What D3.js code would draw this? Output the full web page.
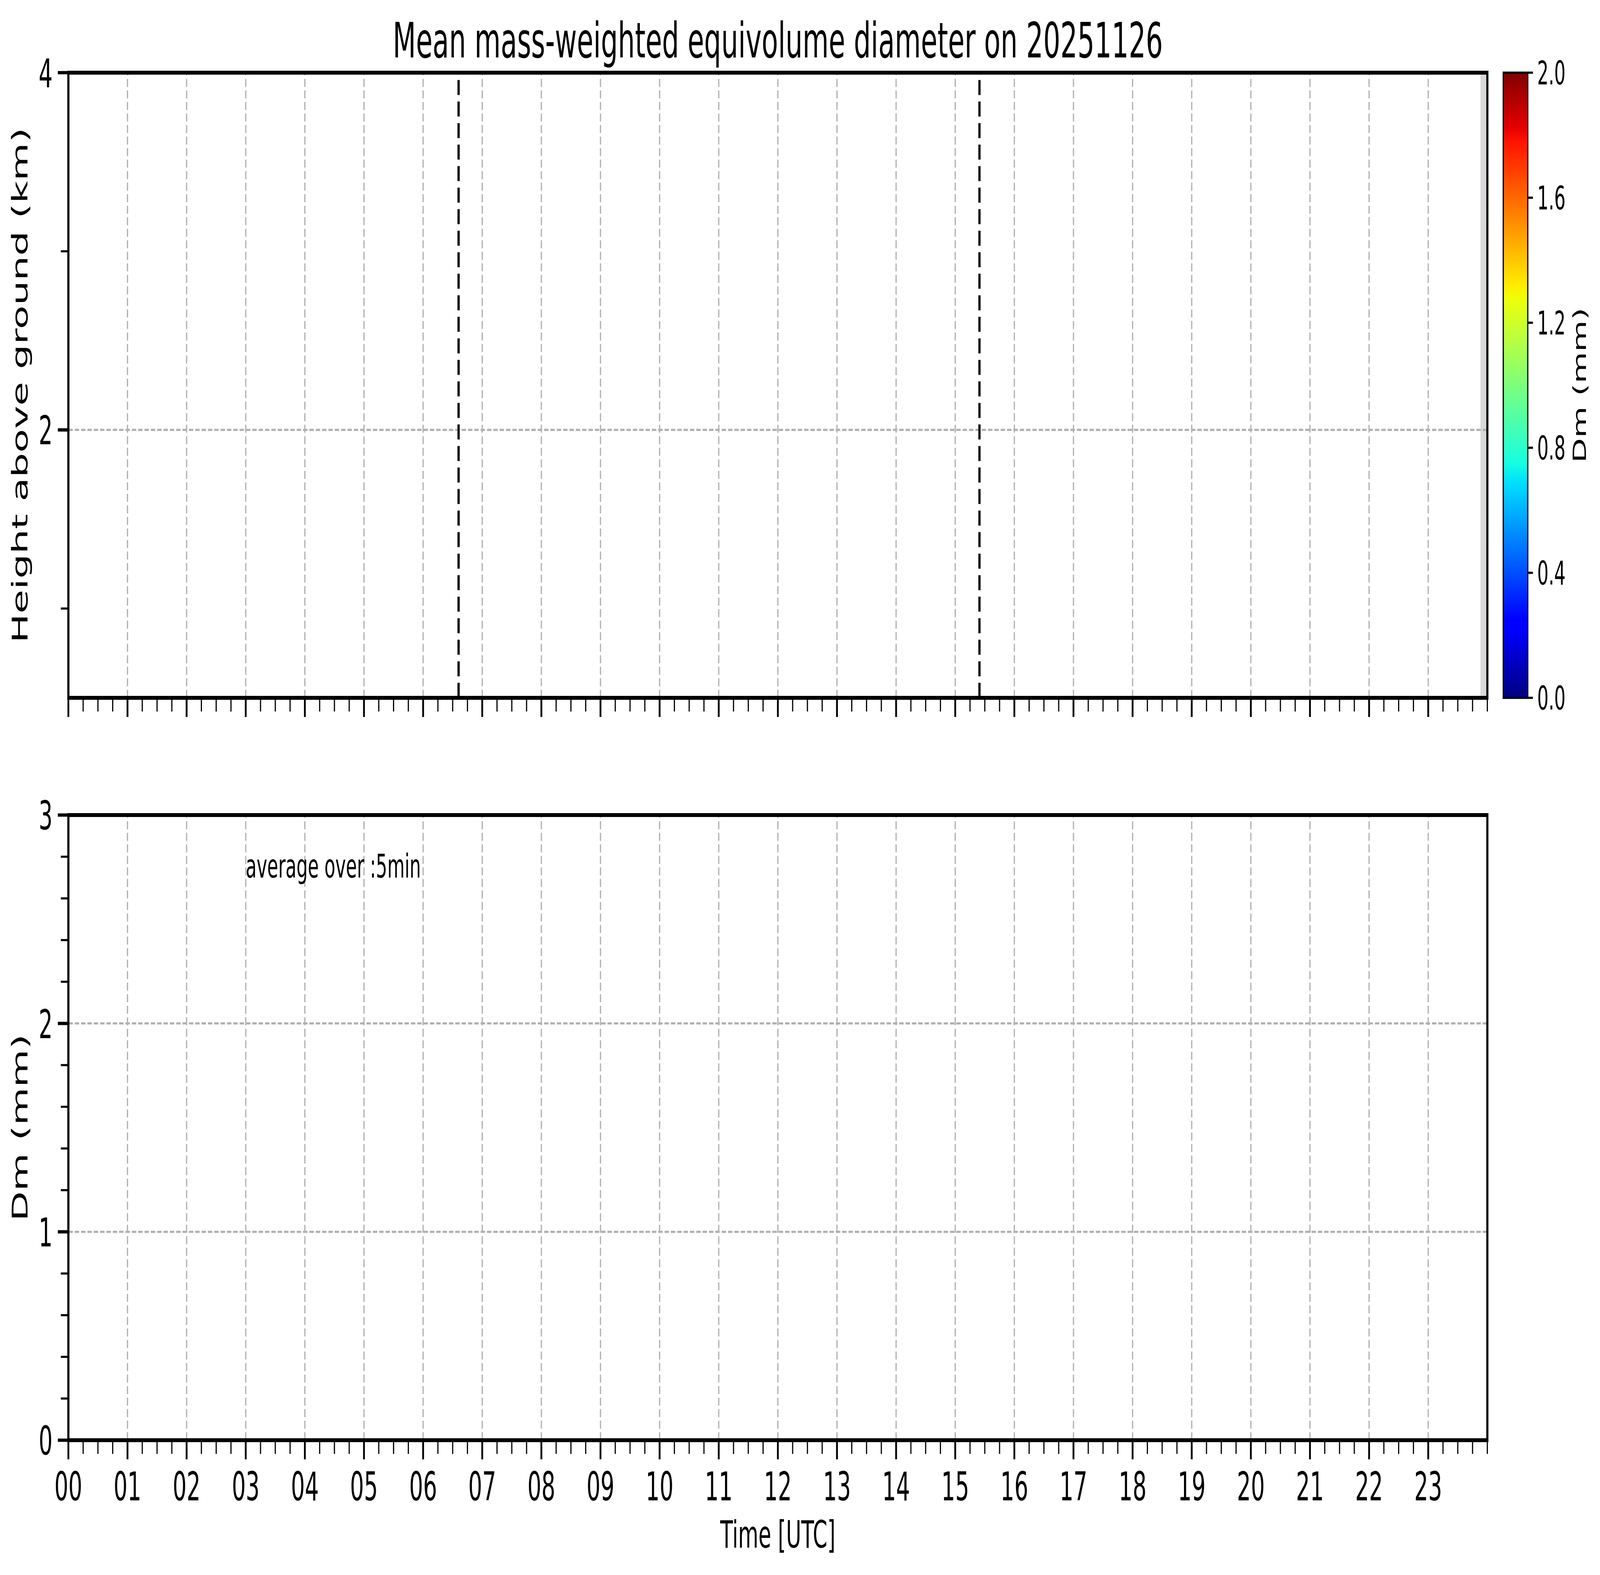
<!DOCTYPE html>
<html>
<head>
<meta charset="utf-8">
<script src="https://cdn.jsdelivr.net/npm/d3@7/dist/d3.min.js"></script>
<style>
  html, body { margin: 0; padding: 0; background: #ffffff; width: 100%; height: 100%; overflow: hidden; }
  svg { display: block; width: 100vw; height: 100vh; }
  text { font-family: "DejaVu Sans", sans-serif; fill: #000; }
</style>
</head>
<body>
<script>
// ---------------- data ----------------
const titleText = "Mean mass-weighted equivolume diameter on 20251126";
const hourTicks = [0,1,2,3,4,5,6,7,8,9,10,11,12,13,14,15,16,17,18,19,20,21,22,23];
const hourLabels = ["00","01","02","03","04","05","06","07","08","09","10","11",
                    "12","13","14","15","16","17","18","19","20","21","22","23"];
const heightMajorTicks = [2, 4];
const heightMinorTicks = [1, 3];
const heightLabels = ["2", "4"];
const dmMajorTicks = [0, 1, 2, 3];
const dmMinorTicks = [0.2,0.4,0.6,0.8,1.2,1.4,1.6,1.8,2.2,2.4,2.6,2.8];
const dmLabels = ["0", "1", "2", "3"];
const cbarTicks = [0.0, 0.4, 0.8, 1.2, 1.6, 2.0];
const cbarLabels = ["0.0", "0.4", "0.8", "1.2", "1.6", "2.0"];
const dayMarkers = [6.6, 15.41];         // dashed vertical lines (UTC hours)
const missingSpan = [23.883, 24];         // no-data band at end of day
const dmSeries = [];                      // no Dm values on this day
const noteText = "average over :5min";
const notePos = [3.0, 2.7];

// ---------------- layout ----------------
const W = 7442, H = 4031;
const L = 318, R = 6918;
const topY0 = 186, topY1 = 1786;
const botY0 = 2086, botY1 = 3686;
const cbX0 = 6992, cbX1 = 7106;

const x = d3.scaleLinear().domain([0, 24]).range([L, R]);
const yTop = d3.scaleLinear().domain([0.5, 4]).range([topY1, topY0]);
const yBot = d3.scaleLinear().domain([0, 3]).range([botY1, botY0]);
const cScale = d3.scaleLinear().domain([0, 2]).range([topY1, topY0]);

const svg = d3.select("body").append("svg")
  .attr("viewBox", `0 0 ${W} ${H}`)
  .attr("preserveAspectRatio", "none");

svg.append("rect").attr("width", W).attr("height", H).attr("fill", "#fff");

const GRID = { stroke: "#b0b0b0", width: 5.56, dash: "20.6,8.9" };
const SPINE_W = 10;
const MAJ_LEN = 49, MAJ_W = 8.4, MIN_LEN = 35, MIN_W = 5.4;
const TICK_FS = 102, LABEL_FS = 100, XLABEL_FS = 97;

const minorX = d3.range(0, 24.0001, 0.25).filter(v => Math.abs(v - Math.round(v)) > 1e-6 || v === 24);

function grid(yScale, majors) {
  const [yb, yt] = yScale.range();
  const g = svg.append("g");
  g.selectAll(".vg").data(hourTicks.filter(h => h > 0)).join("line")
    .attr("x1", d => x(d)).attr("x2", d => x(d))
    .attr("y1", yb).attr("y2", yt)
    .attr("stroke", GRID.stroke).attr("stroke-width", GRID.width)
    .attr("stroke-dasharray", GRID.dash);
  const dom = yScale.domain();
  g.selectAll(".hg").data(majors.filter(v => v > dom[0] && v < dom[1])).join("line")
    .attr("x1", L).attr("x2", R)
    .attr("y1", d => yScale(d)).attr("y2", d => yScale(d))
    .attr("stroke", GRID.stroke).attr("stroke-width", GRID.width)
    .attr("stroke-dasharray", GRID.dash);
}

function frame(yScale, majors, minors, labels, showXLabels, ylabel) {
  const [yb, yt] = yScale.range();
  const g = svg.append("g");
  g.selectAll(".xM").data(hourTicks).join("line")
    .attr("x1", d => x(d)).attr("x2", d => x(d))
    .attr("y1", yb).attr("y2", yb + MAJ_LEN)
    .attr("stroke", "#000").attr("stroke-width", MAJ_W);
  g.selectAll(".xm").data(minorX).join("line")
    .attr("x1", d => x(d)).attr("x2", d => x(d))
    .attr("y1", yb).attr("y2", yb + MIN_LEN)
    .attr("stroke", "#000").attr("stroke-width", MIN_W);
  g.selectAll(".yM").data(majors).join("line")
    .attr("x1", L - MAJ_LEN).attr("x2", L)
    .attr("y1", d => yScale(d)).attr("y2", d => yScale(d))
    .attr("stroke", "#000").attr("stroke-width", MAJ_W);
  g.selectAll(".ym").data(minors).join("line")
    .attr("x1", L - MIN_LEN).attr("x2", L)
    .attr("y1", d => yScale(d)).attr("y2", d => yScale(d))
    .attr("stroke", "#000").attr("stroke-width", MIN_W);
  g.selectAll(".yl").data(majors).join("text")
    .attr("x", L - MAJ_LEN - 24).attr("y", d => yScale(d) + 0.3645 * TICK_FS)
    .attr("text-anchor", "end").attr("font-size", TICK_FS)
    .text((d, i) => labels[i]);
  if (showXLabels) {
    g.selectAll(".xl").data(hourTicks).join("text")
      .attr("x", d => x(d)).attr("y", yb + 154)
      .attr("text-anchor", "middle").attr("font-size", TICK_FS)
      .text((d, i) => hourLabels[i]);
  }
  g.append("rect").attr("x", L).attr("y", yt).attr("width", R - L).attr("height", yb - yt)
    .attr("fill", "none").attr("stroke", "#000").attr("stroke-width", SPINE_W);
  g.append("text")
    .attr("transform", `translate(128,${(yb + yt) / 2}) rotate(-90)`)
    .attr("text-anchor", "middle").attr("font-size", LABEL_FS)
    .text(ylabel);
}

// ---------------- top panel ----------------
svg.append("rect")
  .attr("x", x(missingSpan[0])).attr("y", topY0)
  .attr("width", x(missingSpan[1]) - x(missingSpan[0])).attr("height", topY1 - topY0)
  .attr("fill", "#d9d9d9");
grid(yTop, heightMajorTicks);
svg.append("g").selectAll("path").data(dayMarkers).join("path")
  .attr("d", d => `M${x(d)},${yTop(0.5)}L${x(d)},${yTop(4)}`)
  .attr("stroke", "#000").attr("stroke-width", 10.4)
  .attr("stroke-dasharray", "38.5,16.6").attr("fill", "none");
frame(yTop, heightMajorTicks, heightMinorTicks, heightLabels, false, "Height above ground (km)");

// ---------------- bottom panel ----------------
grid(yBot, dmMajorTicks);
svg.append("path").datum(dmSeries)
  .attr("d", d3.line().x(d => x(d[0])).y(d => yBot(d[1])))
  .attr("fill", "none").attr("stroke", "#000").attr("stroke-width", 6);
svg.append("text")
  .attr("x", x(notePos[0])).attr("y", yBot(notePos[1]))
  .attr("font-size", 83).text(noteText);
frame(yBot, dmMajorTicks, dmMinorTicks, dmLabels, true, "Dm (mm)");

svg.append("text").attr("x", (L + R) / 2).attr("y", 3961)
  .attr("text-anchor", "middle").attr("font-size", XLABEL_FS).text("Time [UTC]");

svg.append("text").attr("x", (L + R) / 2).attr("y", 147)
  .attr("text-anchor", "middle").attr("font-size", 125).text(titleText);

// ---------------- colorbar (jet) ----------------
function jetChannel(pts, t) {
  for (let i = 1; i < pts.length; i++) {
    if (t <= pts[i][0]) {
      const [x0, y0] = pts[i - 1], [x1, y1] = pts[i];
      return y0 + (y1 - y0) * (t - x0) / (x1 - x0);
    }
  }
  return pts[pts.length - 1][1];
}
const jetR = [[0,0],[0.35,0],[0.66,1],[0.89,1],[1,0.5]];
const jetG = [[0,0],[0.125,0],[0.375,1],[0.64,1],[0.91,0],[1,0]];
const jetB = [[0,0.5],[0.11,1],[0.34,1],[0.65,0],[1,0]];
function jet(t) {
  return d3.rgb(255 * jetChannel(jetR, t), 255 * jetChannel(jetG, t), 255 * jetChannel(jetB, t)).toString();
}
const defs = svg.append("defs");
const grad = defs.append("linearGradient").attr("id", "jetGrad")
  .attr("x1", 0).attr("y1", 1).attr("x2", 0).attr("y2", 0);
grad.selectAll("stop").data(d3.range(0, 1.00001, 1 / 128)).join("stop")
  .attr("offset", d => d).attr("stop-color", d => jet(d));

svg.append("rect").attr("x", cbX0).attr("y", cScale(2))
  .attr("width", cbX1 - cbX0).attr("height", cScale(0) - cScale(2))
  .attr("fill", "url(#jetGrad)").attr("stroke", "#000").attr("stroke-width", 5.6);
svg.append("g").selectAll("line").data(cbarTicks).join("line")
  .attr("x1", cbX1).attr("x2", cbX1 + 24)
  .attr("y1", d => cScale(d)).attr("y2", d => cScale(d))
  .attr("stroke", "#000").attr("stroke-width", 5.6);
svg.append("g").selectAll("text").data(cbarTicks).join("text")
  .attr("x", cbX1 + 44).attr("y", d => cScale(d) + 0.3645 * 83)
  .attr("font-size", 83).text((d, i) => cbarLabels[i]);
svg.append("text")
  .attr("transform", `translate(7376,${(topY0 + topY1) / 2}) rotate(-90)`)
  .attr("text-anchor", "middle").attr("font-size", 83).text("Dm (mm)");
</script>
</body>
</html>
